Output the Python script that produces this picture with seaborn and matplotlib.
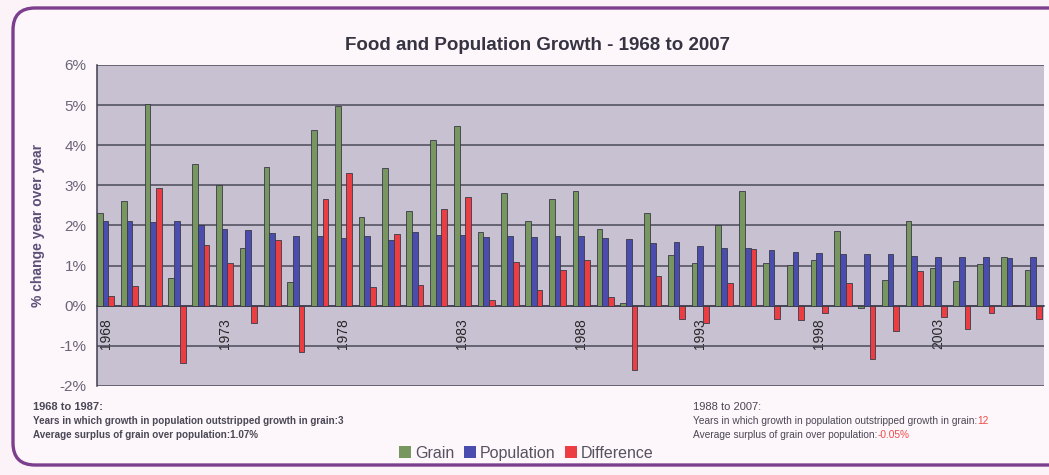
import matplotlib
matplotlib.use("Agg")
import matplotlib.pyplot as plt
from matplotlib.patches import FancyBboxPatch, Patch
import numpy as np
import pandas as pd
import seaborn as sns

# Year-over-year % change, 1968-2007
years = list(range(1968, 2008))
grain = [2.32, 2.61, 5.02, 0.68, 3.52, 3.01, 1.45, 3.45, 0.60, 4.38,
         4.98, 2.21, 3.43, 2.36, 4.14, 4.47, 1.85, 2.81, 2.11, 2.66,
         2.86, 1.92, 0.08, 2.31, 1.26, 1.07, 2.01, 2.86, 1.07, 1.01,
         1.13, 1.86, -0.05, 0.64, 2.11, 0.94, 0.62, 1.04, 1.21, 0.88]
population = [2.10, 2.11, 2.09, 2.10, 2.00, 1.92, 1.88, 1.82, 1.74, 1.73,
              1.70, 1.74, 1.65, 1.84, 1.77, 1.77, 1.72, 1.73, 1.71, 1.75,
              1.74, 1.68, 1.67, 1.56, 1.60, 1.50, 1.45, 1.44, 1.40, 1.35,
              1.31, 1.29, 1.28, 1.29, 1.25, 1.22, 1.21, 1.22, 1.18, 1.21]
difference = [0.24, 0.49, 2.94, -1.42, 1.51, 1.07, -0.44, 1.65, -1.15, 2.66,
              3.30, 0.47, 1.80, 0.52, 2.40, 2.71, 0.14, 1.08, 0.38, 0.90,
              1.13, 0.23, -1.60, 0.75, -0.32, -0.43, 0.56, 1.41, -0.33, -0.35,
              -0.19, 0.57, -1.32, -0.64, 0.87, -0.28, -0.59, -0.17, 0.03, -0.32]
series_names = ["Grain", "Population", "Difference"]
series_colors = ["#78965f", "#4a4dae", "#ec3d43"]
y_ticks = [-2, -1, 0, 1, 2, 3, 4, 5, 6]
x_label_years = [1968, 1973, 1978, 1983, 1988, 1993, 1998, 2003]

df = pd.DataFrame({
    "year": [str(y) for y in years] * 3,
    "series": np.repeat(series_names, len(years)),
    "value": grain + population + difference,
})

sns.set_style("white")
plt.rcParams["font.family"] = ["Liberation Sans", "DejaVu Sans"]

fig = plt.figure(figsize=(10.49, 4.75), dpi=100)
fig.patch.set_facecolor("#fcf3f8")

# rounded chart frame
frame = FancyBboxPatch((0.13, 0.10), 10.6, 4.57,
                       boxstyle="round,pad=0,rounding_size=0.22",
                       transform=fig.dpi_scale_trans, facecolor="#fdf6fa",
                       edgecolor="#7c3f8e", linewidth=2.4, zorder=0)
fig.add_artist(frame)

ax = fig.add_axes([0.0925, 0.1874, 0.9027, 0.6758])
ax.set_facecolor("#c8c1d2")

sns.barplot(data=df, x="year", y="value", hue="series",
            hue_order=series_names, palette=series_colors,
            order=[str(y) for y in years], width=0.72, gap=0,
            edgecolor="#3a3a48", linewidth=0.6, saturation=1,
            legend=False, ax=ax, zorder=3)

ax.set_ylim(-2, 6)
ax.set_xlim(-0.36, 39.45)
ax.set_yticks(y_ticks)
ax.set_yticklabels([f"{t}%" for t in y_ticks], color="#6a6679", fontsize=11)
ax.yaxis.grid(True, color="#4c4a58", linewidth=1.1, zorder=1)
ax.set_axisbelow(True)

idx = [years.index(y) for y in x_label_years]
ax.set_xticks(idx)
ax.set_xticks([i - 0.5 for i in idx[1:]], minor=True)
ax.set_xticklabels([str(y) for y in x_label_years], color="#5e5c6a",
                   fontsize=10)
ax.tick_params(axis="x", which="major", length=0, pad=9, labelrotation=90)
ax.tick_params(axis="x", which="minor", length=4, color="#3e3e50",
               direction="out", width=1)
ax.tick_params(axis="y", length=4, color="#3e3e50", direction="out", width=1)
for lab in ax.get_xticklabels():
    lab.set_rotation(90)
    lab.set_va("top")
    lab.set_ha("center")

ax.spines["bottom"].set_position(("data", 0))
ax.spines["bottom"].set_color("#3e3e50")
ax.spines["bottom"].set_linewidth(1.1)
ax.spines["left"].set_color("#3e3e50")
ax.spines["left"].set_linewidth(1.1)
ax.spines["top"].set_visible(False)
ax.spines["right"].set_visible(False)
ax.set_xlabel("")
ax.set_ylabel("")

fig.text(0.512, 0.905, "Food and Population Growth - 1968 to 2007",
         ha="center", va="center", fontsize=13.5, fontweight="bold",
         color="#363342")
fig.text(0.036, 0.526, "% change year over year", rotation=90,
         ha="center", va="center", fontsize=10, fontweight="bold",
         color="#5a5078")

handles = [Patch(facecolor=c, edgecolor="none") for c in series_colors]
fig.legend(handles, series_names, loc="center", bbox_to_anchor=(0.502, 0.046),
           ncol=3, frameon=False, fontsize=11.5, handlelength=0.75,
           handleheight=0.75, handletextpad=0.25, columnspacing=0.6,
           labelcolor="#555360")

# period summaries
note_color = "#4a4856"
red = "#ef4a4a"
fig.text(0.0315, 0.143, "1968 to 1987:", fontsize=8, fontweight="bold",
         color=note_color, va="center")
fig.text(0.0315, 0.114,
         "Years in which growth in population outstripped growth in grain:3",
         fontsize=7.1, fontweight="bold", color=note_color, va="center")
fig.text(0.0315, 0.084, "Average surplus of grain over population:1.07%",
         fontsize=7.1, fontweight="bold", color=note_color, va="center")

fig.text(0.661, 0.143, "1988 to 2007:", fontsize=8, color=note_color,
         va="center")
t1 = fig.text(0.661, 0.114,
              "Years in which growth in population outstripped growth in grain:",
              fontsize=7.3, color=note_color, va="center")
ax.annotate("12", xy=(1, 0), xycoords=t1, va="bottom", ha="left",
            fontsize=7.3, color=red, annotation_clip=False)
t2 = fig.text(0.661, 0.084, "Average surplus of grain over population:",
              fontsize=7.3, color=note_color, va="center")
ax.annotate("-0.05%", xy=(1, 0), xycoords=t2, va="bottom", ha="left",
            fontsize=7.3, color=red, annotation_clip=False)

fig.savefig("out.png", dpi=100, facecolor=fig.get_facecolor())
